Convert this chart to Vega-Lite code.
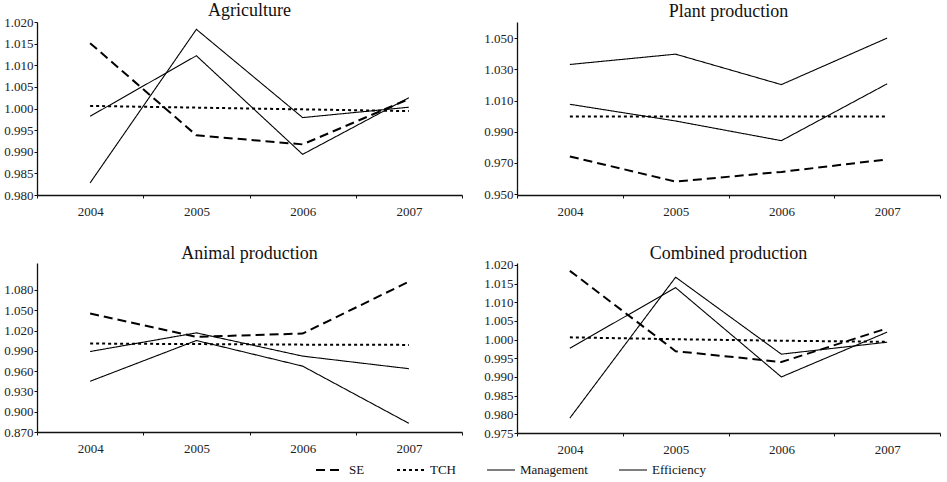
{
  "$schema": "https://vega.github.io/schema/vega-lite/v6.json",
  "padding": {"left": 3, "top": 2, "right": 0, "bottom": 0},
  "background": "#ffffff",
  "data": {
    "values": [
      {"panel": "Agriculture", "year": "2004", "series": "SE", "value": 1.0151},
      {"panel": "Agriculture", "year": "2005", "series": "SE", "value": 0.9938},
      {"panel": "Agriculture", "year": "2006", "series": "SE", "value": 0.9917},
      {"panel": "Agriculture", "year": "2007", "series": "SE", "value": 1.0022},
      {"panel": "Agriculture", "year": "2004", "series": "TCH", "value": 1.0006},
      {"panel": "Agriculture", "year": "2005", "series": "TCH", "value": 1.0002},
      {"panel": "Agriculture", "year": "2006", "series": "TCH", "value": 0.9998},
      {"panel": "Agriculture", "year": "2007", "series": "TCH", "value": 0.9994},
      {"panel": "Agriculture", "year": "2004", "series": "Management", "value": 0.9828},
      {"panel": "Agriculture", "year": "2005", "series": "Management", "value": 1.0183},
      {"panel": "Agriculture", "year": "2006", "series": "Management", "value": 0.9979},
      {"panel": "Agriculture", "year": "2007", "series": "Management", "value": 1.0003},
      {"panel": "Agriculture", "year": "2004", "series": "Efficiency", "value": 0.9982},
      {"panel": "Agriculture", "year": "2005", "series": "Efficiency", "value": 1.0122},
      {"panel": "Agriculture", "year": "2006", "series": "Efficiency", "value": 0.9894},
      {"panel": "Agriculture", "year": "2007", "series": "Efficiency", "value": 1.0025},

      {"panel": "Plant production", "year": "2004", "series": "SE", "value": 0.9742},
      {"panel": "Plant production", "year": "2005", "series": "SE", "value": 0.9581},
      {"panel": "Plant production", "year": "2006", "series": "SE", "value": 0.9643},
      {"panel": "Plant production", "year": "2007", "series": "SE", "value": 0.9723},
      {"panel": "Plant production", "year": "2004", "series": "TCH", "value": 0.9998},
      {"panel": "Plant production", "year": "2005", "series": "TCH", "value": 0.9998},
      {"panel": "Plant production", "year": "2006", "series": "TCH", "value": 0.9997},
      {"panel": "Plant production", "year": "2007", "series": "TCH", "value": 0.9997},
      {"panel": "Plant production", "year": "2004", "series": "Management", "value": 1.0331},
      {"panel": "Plant production", "year": "2005", "series": "Management", "value": 1.0397},
      {"panel": "Plant production", "year": "2006", "series": "Management", "value": 1.0202},
      {"panel": "Plant production", "year": "2007", "series": "Management", "value": 1.05},
      {"panel": "Plant production", "year": "2004", "series": "Efficiency", "value": 1.0076},
      {"panel": "Plant production", "year": "2005", "series": "Efficiency", "value": 0.9969},
      {"panel": "Plant production", "year": "2006", "series": "Efficiency", "value": 0.9843},
      {"panel": "Plant production", "year": "2007", "series": "Efficiency", "value": 1.0207},

      {"panel": "Animal production", "year": "2004", "series": "SE", "value": 1.0452},
      {"panel": "Animal production", "year": "2005", "series": "SE", "value": 1.0107},
      {"panel": "Animal production", "year": "2006", "series": "SE", "value": 1.0156},
      {"panel": "Animal production", "year": "2007", "series": "SE", "value": 1.0923},
      {"panel": "Animal production", "year": "2004", "series": "TCH", "value": 1.0008},
      {"panel": "Animal production", "year": "2005", "series": "TCH", "value": 1.0},
      {"panel": "Animal production", "year": "2006", "series": "TCH", "value": 0.9992},
      {"panel": "Animal production", "year": "2007", "series": "TCH", "value": 0.9988},
      {"panel": "Animal production", "year": "2004", "series": "Management", "value": 0.945},
      {"panel": "Animal production", "year": "2005", "series": "Management", "value": 1.0053},
      {"panel": "Animal production", "year": "2006", "series": "Management", "value": 0.9674},
      {"panel": "Animal production", "year": "2007", "series": "Management", "value": 0.8828},
      {"panel": "Animal production", "year": "2004", "series": "Efficiency", "value": 0.989},
      {"panel": "Animal production", "year": "2005", "series": "Efficiency", "value": 1.0166},
      {"panel": "Animal production", "year": "2006", "series": "Efficiency", "value": 0.9822},
      {"panel": "Animal production", "year": "2007", "series": "Efficiency", "value": 0.9636},

      {"panel": "Combined production", "year": "2004", "series": "SE", "value": 1.0184},
      {"panel": "Combined production", "year": "2005", "series": "SE", "value": 0.9969},
      {"panel": "Combined production", "year": "2006", "series": "SE", "value": 0.994},
      {"panel": "Combined production", "year": "2007", "series": "SE", "value": 1.003},
      {"panel": "Combined production", "year": "2004", "series": "TCH", "value": 1.0006},
      {"panel": "Combined production", "year": "2005", "series": "TCH", "value": 1.0001},
      {"panel": "Combined production", "year": "2006", "series": "TCH", "value": 0.9997},
      {"panel": "Combined production", "year": "2007", "series": "TCH", "value": 0.9994},
      {"panel": "Combined production", "year": "2004", "series": "Management", "value": 0.979},
      {"panel": "Combined production", "year": "2005", "series": "Management", "value": 1.0167},
      {"panel": "Combined production", "year": "2006", "series": "Management", "value": 0.9961},
      {"panel": "Combined production", "year": "2007", "series": "Management", "value": 0.9993},
      {"panel": "Combined production", "year": "2004", "series": "Efficiency", "value": 0.9977},
      {"panel": "Combined production", "year": "2005", "series": "Efficiency", "value": 1.0139},
      {"panel": "Combined production", "year": "2006", "series": "Efficiency", "value": 0.99},
      {"panel": "Combined production", "year": "2007", "series": "Efficiency", "value": 1.002}
    ]
  },
  "spacing": 26,
  "vconcat": [
    {
      "spacing": 20,
      "hconcat": [
        {
          "title": {"text": "Agriculture", "offset": -4},
          "width": 425,
          "height": 173,
          "transform": [{"filter": "datum.panel === 'Agriculture'"}],
          "mark": {"type": "line", "color": "#000"},
          "encoding": {
            "x": {"field": "year", "type": "ordinal", "bandPosition": 0.5,
                  "scale": {"type": "band", "paddingInner": 0, "paddingOuter": 0},
                  "axis": {"title": null, "labelAngle": 0, "tickBand": "extent", "labelPadding": 7}},
            "y": {"field": "value", "type": "quantitative",
                  "scale": {"domain": [0.98, 1.02], "zero": false, "nice": false},
                  "axis": {"title": null, "format": ".3f", "values": [0.98, 0.985, 0.99, 0.995, 1.0, 1.005, 1.01, 1.015, 1.02]}},
            "strokeDash": {"field": "series", "type": "ordinal",
                           "scale": {"type": "ordinal", "domain": ["SE", "TCH", "Management", "Efficiency"], "range": [[9, 5], [3, 3], [1, 0], [1, 0]]},
                           "legend": {"title": null, "orient": "none", "direction": "horizontal", "legendX": 278, "legendY": 433}},
            "strokeWidth": {"field": "series", "type": "ordinal",
                            "scale": {"type": "ordinal", "domain": ["SE", "TCH", "Management", "Efficiency"], "range": [2, 2, 1.1, 1.1]},
                            "legend": {"title": null, "orient": "none", "direction": "horizontal", "legendX": 278, "legendY": 433}}
          }
        },
        {
          "title": {"text": "Plant production", "offset": 1},
          "width": 423,
          "height": 173,
          "transform": [{"filter": "datum.panel === 'Plant production'"}],
          "mark": {"type": "line", "color": "#000"},
          "encoding": {
            "x": {"field": "year", "type": "ordinal", "bandPosition": 0.5,
                  "scale": {"type": "band", "paddingInner": 0, "paddingOuter": 0},
                  "axis": {"title": null, "labelAngle": 0, "tickBand": "extent", "labelPadding": 7}},
            "y": {"field": "value", "type": "quantitative",
                  "scale": {"domain": [0.9495, 1.0603], "zero": false, "nice": false},
                  "axis": {"title": null, "format": ".3f", "values": [0.95, 0.97, 0.99, 1.01, 1.03, 1.05]}},
            "strokeDash": {"field": "series", "type": "ordinal",
                           "scale": {"type": "ordinal", "domain": ["SE", "TCH", "Management", "Efficiency"], "range": [[9, 5], [3, 3], [1, 0], [1, 0]]},
                           "legend": {"title": null, "orient": "none", "direction": "horizontal", "legendX": 278, "legendY": 433}},
            "strokeWidth": {"field": "series", "type": "ordinal",
                            "scale": {"type": "ordinal", "domain": ["SE", "TCH", "Management", "Efficiency"], "range": [2, 2, 1.1, 1.1]},
                            "legend": {"title": null, "orient": "none", "direction": "horizontal", "legendX": 278, "legendY": 433}}
          }
        }
      ]
    },
    {
      "spacing": 20,
      "hconcat": [
        {
          "title": {"text": "Animal production", "offset": 0},
          "width": 425,
          "height": 169,
          "transform": [{"filter": "datum.panel === 'Animal production'"}],
          "mark": {"type": "line", "color": "#000"},
          "encoding": {
            "x": {"field": "year", "type": "ordinal", "bandPosition": 0.5,
                  "scale": {"type": "band", "paddingInner": 0, "paddingOuter": 0},
                  "axis": {"title": null, "labelAngle": 0, "tickBand": "extent", "labelPadding": 7}},
            "y": {"field": "value", "type": "quantitative",
                  "scale": {"domain": [0.87, 1.1199], "zero": false, "nice": false},
                  "axis": {"title": null, "format": ".3f", "values": [0.87, 0.9, 0.93, 0.96, 0.99, 1.02, 1.05, 1.08]}},
            "strokeDash": {"field": "series", "type": "ordinal",
                           "scale": {"type": "ordinal", "domain": ["SE", "TCH", "Management", "Efficiency"], "range": [[9, 5], [3, 3], [1, 0], [1, 0]]},
                           "legend": {"title": null, "orient": "none", "direction": "horizontal", "legendX": 278, "legendY": 433}},
            "strokeWidth": {"field": "series", "type": "ordinal",
                            "scale": {"type": "ordinal", "domain": ["SE", "TCH", "Management", "Efficiency"], "range": [2, 2, 1.1, 1.1]},
                            "legend": {"title": null, "orient": "none", "direction": "horizontal", "legendX": 278, "legendY": 433}}
          }
        },
        {
          "title": {"text": "Combined production", "offset": -4},
          "width": 423,
          "height": 170,
          "transform": [{"filter": "datum.panel === 'Combined production'"}],
          "mark": {"type": "line", "color": "#000"},
          "encoding": {
            "x": {"field": "year", "type": "ordinal", "bandPosition": 0.5,
                  "scale": {"type": "band", "paddingInner": 0, "paddingOuter": 0},
                  "axis": {"title": null, "labelAngle": 0, "tickBand": "extent", "labelPadding": 7}},
            "y": {"field": "value", "type": "quantitative",
                  "scale": {"domain": [0.975, 1.0205], "zero": false, "nice": false},
                  "axis": {"title": null, "format": ".3f", "values": [0.975, 0.98, 0.985, 0.99, 0.995, 1.0, 1.005, 1.01, 1.015, 1.02]}},
            "strokeDash": {"field": "series", "type": "ordinal",
                           "scale": {"type": "ordinal", "domain": ["SE", "TCH", "Management", "Efficiency"], "range": [[9, 5], [3, 3], [1, 0], [1, 0]]},
                           "legend": {"title": null, "orient": "none", "direction": "horizontal", "legendX": 278, "legendY": 433}},
            "strokeWidth": {"field": "series", "type": "ordinal",
                            "scale": {"type": "ordinal", "domain": ["SE", "TCH", "Management", "Efficiency"], "range": [2, 2, 1.1, 1.1]},
                            "legend": {"title": null, "orient": "none", "direction": "horizontal", "legendX": 278, "legendY": 433}}
          }
        }
      ]
    }
  ],
  "config": {
    "font": "Liberation Serif",
    "view": {"stroke": null},
    "axis": {
      "grid": false,
      "domainColor": "#111",
      "domainWidth": 1.3,
      "tickColor": "#111",
      "tickSize": 3,
      "labelColor": "#222",
      "labelFont": "Liberation Serif",
      "labelFontSize": 13,
      "labelPadding": 1
    },
    "title": {"fontSize": 18, "fontWeight": "normal", "color": "#111", "font": "Liberation Serif", "anchor": "middle"},
    "legend": {
      "symbolType": "stroke",
      "symbolSize": 784,
      "symbolStrokeColor": "#000",
      "labelOffset": 4,
      "columnPadding": 28,
      "labelFont": "Liberation Serif",
      "labelFontSize": 13,
      "labelColor": "#111"
    }
  }
}
